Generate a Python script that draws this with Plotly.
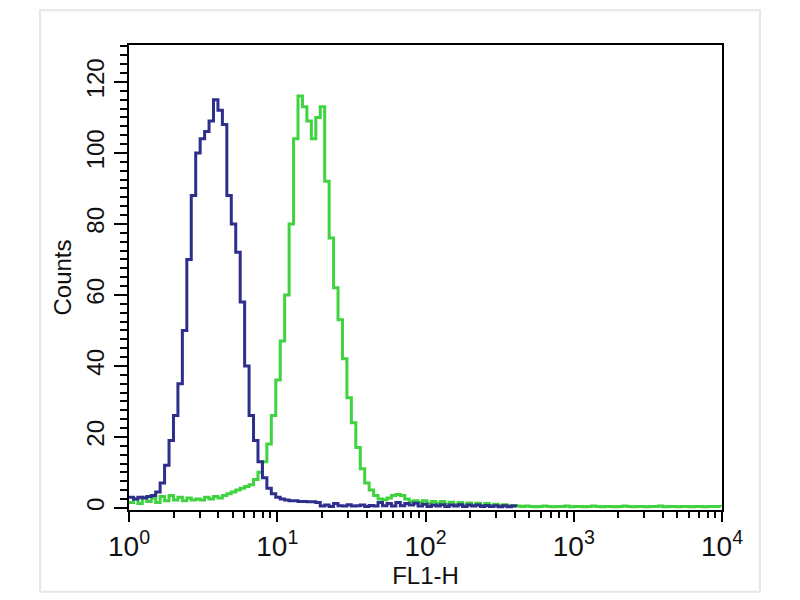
#!/usr/bin/env python3
"""
Flow cytometry histogram: FL1-H (log) vs Counts, control (blue) and stained (green).
"""
import numpy as np
import plotly.graph_objects as go

# channel grid: log10 step per channel
CHANNEL_STEP = 0.03

# counts per channel, starting at FL1-H = 10^0
BLUE_COUNTS = [
    3, 2.5, 3, 2.8, 3.2, 3.5, 4.5, 7, 12, 19,
    26, 35, 50, 70, 88, 100, 104, 106, 109, 115,
    112, 108, 88, 80, 72, 58, 40, 26, 19, 13,
    8.5, 5.5, 4, 3, 2.5, 2.2, 2, 2, 1.8, 1.8,
    1.7, 1.7, 1.5, 0.5, 0.8, 0.4, 1.2, 0.6, 0.5, 0.9,
    0.5, 0.6, 0.8, 0.4, 0.7, 0.5, 1.5, 0.6, 1.2, 0.5,
    1.5, 0.6, 1.2, 0.8, 1.3, 0.5, 1.0, 0.4, 0.8, 0.5,
    0.9, 0.4, 0.8, 0.5, 0.9, 0.4, 0.8, 0.5, 0.8, 0.4,
    0.7, 0.4, 0.6, 0.3, 0.6, 0.3, 0.5, 0.3,
]

GREEN_COUNTS = [
    1.5, 2.5, 1.2, 3, 1.8, 2.8, 1.5, 3.2, 2, 3.5,
    2.2, 3, 2, 2.8, 2.2, 2.5, 2.2, 3, 2.5, 3.2,
    2.8, 3.5, 4, 4.5, 5, 5.5, 6, 6.5, 8, 10,
    13, 18, 26, 36, 47, 60, 80, 104, 116, 113,
    109, 104, 110, 113, 92, 76, 62, 53, 42, 31,
    24, 17, 11, 7, 5, 3.5, 2.5, 2.3, 2.8, 3.5,
    3.8, 3.5, 2.5, 1.8, 2, 1.5, 2, 1.3, 1.8, 1.2,
    1.8, 1.0, 1.6, 0.9, 1.5, 0.8, 1.4, 0.8, 1.3, 0.7,
    1.2, 0.7, 1.0, 0.6, 0.9, 0.5, 0.7, 0.5,
    0.4, 0.5, 0.4, 0.3, 0.4, 0.5, 0.4, 0.3, 0.4, 0.4,
    0.5, 0.3, 0.4, 0.4, 0.3, 0.4, 0.5, 0.4, 0.3, 0.4,
    0.4, 0.3, 0.4, 0.5, 0.4, 0.3, 0.4, 0.4, 0.3, 0.4,
    0.4, 0.5, 0.3, 0.4, 0.4, 0.3, 0.4, 0.4, 0.3, 0.4,
    0.4, 0.3, 0.4, 0.4, 0.4, 0.3,
]

X_TICKS = [1, 10, 100, 1000, 10000]
X_TICK_TEXT = ["10<sup>0</sup>", "10<sup>1</sup>", "10<sup>2</sup>", "10<sup>3</sup>", "10<sup>4</sup>"]
X_MINOR = [m * d for d in (1, 10, 100, 1000) for m in range(2, 10)]
Y_TICKS = [0, 20, 40, 60, 80, 100, 120]

BLUE = "#2e2e8c"
GREEN = "#3fd43f"
INK = "#111111"
FONT = "Liberation Sans, Arial, sans-serif"


def channels(n):
    return 10 ** (np.arange(n) * CHANNEL_STEP)


fig = go.Figure()
fig.add_trace(go.Scatter(
    x=channels(len(GREEN_COUNTS)), y=GREEN_COUNTS, mode="lines",
    line=dict(color=GREEN, width=3, shape="hv"), showlegend=False,
))
fig.add_trace(go.Scatter(
    x=channels(len(BLUE_COUNTS)), y=BLUE_COUNTS, mode="lines",
    line=dict(color=BLUE, width=3, shape="hv"), showlegend=False,
))

axis_common = dict(
    showline=True, linecolor="black", linewidth=2, mirror=True,
    showgrid=False, zeroline=False, ticks="outside", tickcolor="black", tickwidth=2,
)

fig.update_xaxes(
    type="log", range=[0, 4],
    tickvals=X_TICKS, ticktext=X_TICK_TEXT, ticklen=10,
    tickfont=dict(size=28, color=INK, family=FONT),
    minor=dict(tickvals=X_MINOR, ticks="outside", ticklen=6, tickcolor="black", tickwidth=2),
    title=dict(text="FL1-H", font=dict(size=24, color=INK, family=FONT), standoff=0),
    **axis_common,
)
fig.update_yaxes(
    range=[-0.6, 130.4],
    tickvals=Y_TICKS, ticklen=13, tickangle=-90,
    tickfont=dict(size=24, color=INK, family=FONT),
    minor=dict(dtick=2.5, ticks="outside", ticklen=7, tickcolor="black", tickwidth=2),
    title=dict(text="Counts", font=dict(size=24, color=INK, family=FONT), standoff=4),
    **axis_common,
)

# the page body adds an 8px offset, so margins are shifted to keep the frame in place
fig.update_layout(
    width=800, height=600,
    paper_bgcolor="white", plot_bgcolor="white",
    margin=dict(l=121, r=86, t=37, b=98),
    shapes=[dict(
        type="rect", xref="paper", yref="paper",
        x0=-0.150, x1=1.064, y0=-0.176, y1=1.075,
        line=dict(color="#e6e6e6", width=2), layer="below",
    )],
)

fig.write_html("out.html", config={"displayModeBar": False})
